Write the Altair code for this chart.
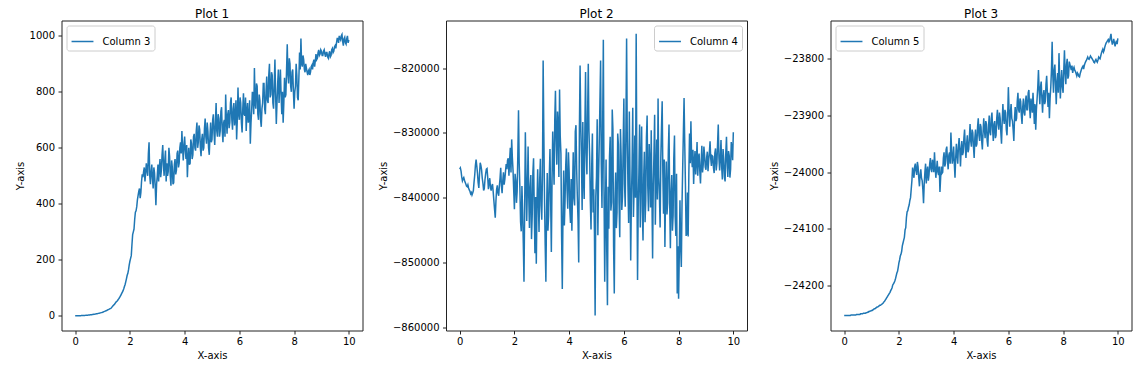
import altair as alt
import pandas as pd

# ---- data (x runs evenly from 0 to 10) ----
col3 = [0, 0, 0, 0.1, 0.3, 0.4, 0.5, 0.6, 0.8, 0.9,
        1, 1.1, 1.3, 1.5, 1.7, 1.8, 2, 2.2, 2.5, 2.7,
        3, 3.3, 3.6, 3.9, 4.2, 4.6, 5, 5.4, 5.8, 6.2,
        6.7, 7.2, 7.7, 8.2, 8.8, 9.4, 10, 10.7, 11.5, 12.2,
        13, 14, 15, 16, 17, 18, 19, 20.5, 22, 23,
        24, 25.5, 27, 29, 32, 35, 38, 40, 43, 47,
        50, 52, 55, 59, 62, 66, 70, 75, 80, 85,
        90, 97, 105, 112, 122, 133, 145, 152, 165, 182,
        195, 205, 215, 255, 290, 300, 310, 345, 370, 375,
        390, 415, 430, 445, 455, 420, 440, 480, 505, 495,
        515, 530, 480, 510, 545, 520, 500, 580, 620, 500,
        470, 515, 540, 490, 455, 530, 510, 460, 395, 470,
        500, 540, 480, 530, 560, 495, 520, 575, 610, 540,
        500, 555, 590, 480, 545, 500, 515, 600, 570, 500,
        465, 555, 530, 470, 475, 540, 560, 505, 520, 580,
        590, 530, 545, 600, 620, 580, 660, 600, 555, 610,
        640, 590, 560, 610, 495, 560, 600, 540, 545, 630,
        615, 560, 575, 640, 650, 600, 590, 660, 690, 600,
        620, 680, 665, 600, 570, 630, 650, 590, 600, 670,
        705, 640, 615, 690, 660, 600, 575, 640, 690, 620,
        630, 700, 720, 650, 610, 690, 760, 660, 640, 720,
        705, 640, 660, 730, 745, 660, 620, 690, 700, 640,
        790, 700, 650, 720, 735, 670, 690, 760, 780, 700,
        665, 740, 760, 680, 705, 770, 630, 700, 815, 720,
        700, 780, 760, 690, 655, 740, 795, 720, 715, 780,
        660, 730, 760, 690, 700, 770, 615, 690, 735, 800,
        790, 720, 885, 760, 740, 830, 820, 720, 700, 790,
        770, 700, 675, 740, 760, 830, 830, 740, 720, 800,
        855, 770, 760, 860, 900, 780, 790, 870, 860, 760,
        740, 830, 915, 790, 685, 760, 830, 880, 760, 820,
        880, 790, 720, 800, 690, 760, 850, 780, 790, 880,
        970, 860, 830, 920, 900, 820, 800, 870, 880, 800,
        740, 800, 820, 900, 860, 780, 770, 850, 940, 880,
        990, 900, 890, 930, 915, 880, 870, 900, 885, 870,
        860, 875, 880, 860, 870, 890, 895, 880, 905, 915,
        890, 910, 935, 915, 920, 940, 950, 930, 935, 950,
        945, 930, 930, 945, 950, 935, 925, 940, 940, 925,
        920, 935, 945, 925, 930, 950, 955, 940, 945, 960,
        965, 955, 975, 990, 990, 975, 1000, 990, 985, 1000,
        1005, 980, 965, 990, 995, 975, 970, 990, 1000, 975,
        985]

col4 = [-835600, -835400, -835900, -836800, -837400, -837100, -836900, -837300, -837600, -837900,
        -838200, -838300, -838000, -838500, -838800, -839000, -839400, -839200, -839600, -839300,
        -838900, -837600, -836500, -835000, -834100, -835100, -836200, -837700, -838500, -836400,
        -834600, -835000, -835700, -837000, -837800, -838900, -838600, -837200, -836300, -835600,
        -835500, -836900, -838700, -837600, -837000, -838400, -838900, -838200, -837900, -839100,
        -840500, -841800, -843100, -840500, -838700, -838100, -839300, -839700, -838200, -837000,
        -835400, -838200, -839300, -837400, -836100, -838000, -837200, -835900, -834800, -835600,
        -834200, -833900, -836600, -834200, -832300, -836100, -831000, -833800, -835800, -838900,
        -841800, -836300, -837400, -840800, -839000, -833400, -826500, -834700, -838500, -843700,
        -845200, -838200, -841900, -847000, -853000, -841500, -829900, -836800, -843600, -838400,
        -832100, -840000, -844700, -838300, -836500, -846400, -842900, -836100, -833900, -841700,
        -848600, -839900, -850200, -841200, -835600, -840700, -845300, -837100, -834000, -841300,
        -843400, -836700, -818800, -829900, -840100, -847300, -853000, -842400, -836200, -845100,
        -842800, -836700, -832500, -840600, -848400, -837400, -829800, -834300, -838000, -827900,
        -823500, -831200, -834900, -826700, -828600, -836800, -823300, -830500, -833200, -846000,
        -854100, -842600, -835800, -844300, -840600, -835100, -832400, -838900, -841700, -833000,
        -836000, -841800, -843900, -837100, -845100, -838600, -833000, -840100, -841200, -829800,
        -828800, -835600, -839900, -843400, -850000, -829400, -819600, -828800, -833700, -841900,
        -828300, -837000, -840200, -829500, -820600, -833100, -836400, -827100, -819300, -829800,
        -833600, -840500, -844900, -835200, -830100, -842300, -838700, -845400, -858200, -839800,
        -836800, -827900, -845800, -837200, -831500, -825300, -818800, -834900, -841600, -829100,
        -815600, -838900, -853000, -842200, -834100, -848100, -856600, -838300, -844800, -833700,
        -830600, -842000, -840700, -826400, -829400, -847600, -854800, -840300, -836100, -844700,
        -842300, -830100, -831800, -840900, -846100, -829400, -833500, -841900, -839800, -831600,
        -824700, -838000, -841400, -829300, -815400, -830900, -838200, -843900, -826700, -837300,
        -849700, -840200, -835200, -826100, -843000, -838500, -830400, -840000, -814700, -835500,
        -852700, -841300, -836000, -828700, -844600, -834800, -829000, -842100, -846600, -836900,
        -832900, -843800, -840400, -830700, -827300, -838400, -842100, -831700, -834800, -841500,
        -829600, -839400, -849400, -838100, -833300, -827200, -844200, -836600, -831000, -840300,
        -824700, -836900, -839600, -844600, -833900, -829300, -825100, -836200, -842500, -834100,
        -847600, -839100, -834400, -842600, -840900, -832800, -828700, -840800, -847800, -839200,
        -836500, -845100, -842700, -833900, -830400, -842900, -845900, -836300, -854800, -847500,
        -855600, -848900, -840400, -847400, -850700, -841100, -835400, -829900, -824600, -831700,
        -837900, -845900, -845600, -839200, -846000, -836200, -830100, -834700, -828200, -833600,
        -835300, -832600, -837900, -834500, -832800, -836400, -834300, -831400, -836600, -833800,
        -833200, -835900, -837800, -834600, -832000, -836100, -834900, -832100, -833400, -835300,
        -835700, -833800, -832900, -835900, -834200, -833000, -831300, -834000, -835100, -833500,
        -833600, -835400, -836200, -833100, -832400, -835800, -834700, -831600, -828700, -833900,
        -835800, -833700, -831100, -835300, -837200, -832500, -834000, -836800, -837500, -833100,
        -830600, -834600, -836800, -832800, -833500, -836900, -835600, -831400, -832400, -834200,
        -829900]

col5 = [-24253, -24253, -24253, -24253, -24253, -24253, -24253, -24253, -24253, -24253,
        -24252, -24252, -24252, -24252, -24252, -24252, -24252, -24252, -24251, -24251,
        -24251, -24251, -24251, -24251, -24250, -24250, -24250, -24250, -24249, -24249,
        -24249, -24249, -24248, -24248, -24247, -24247, -24246, -24246, -24245, -24245,
        -24244, -24244, -24243, -24242, -24241, -24241, -24240, -24239, -24238, -24238,
        -24237, -24236, -24235, -24235, -24234, -24233, -24232, -24231, -24229, -24228,
        -24226, -24224, -24222, -24220, -24218, -24216, -24214, -24212, -24209, -24207,
        -24204, -24199, -24197, -24195, -24192, -24188, -24183, -24178, -24175, -24168,
        -24160, -24155, -24148, -24145, -24140, -24130, -24125, -24120, -24115, -24102,
        -24098, -24080, -24070, -24068, -24062, -24058, -24050, -24045, -24030, -24015,
        -23992, -24000, -24010, -23990, -23985, -23998, -24005, -23982, -23990, -24010,
        -24025, -24005, -23995, -24010, -24015, -24030, -24055, -24020, -24000, -23985,
        -24020, -24000, -23990, -24015, -24005, -23985, -23975, -23995, -24000, -23978,
        -23985, -24000, -23965, -23990, -24010, -23995, -23980, -24000, -24005, -23990,
        -24035, -24010, -23990, -24002, -24000, -23975, -23965, -23990, -23985, -23960,
        -23955, -23980, -23995, -23970, -23965, -23985, -23930, -23960, -23985, -23975,
        -23955, -23985, -24010, -23975, -23950, -23970, -23985, -23955, -23940, -23960,
        -23990, -23960, -23945, -23970, -23965, -23940, -23925, -23955, -23975, -23950,
        -23935, -23965, -23960, -23940, -23915, -23945, -23955, -23925, -23930, -23955,
        -23975, -23940, -23925, -23955, -23950, -23920, -23905, -23935, -23945, -23915,
        -23920, -23945, -23960, -23930, -23905, -23925, -23940, -23910, -23915, -23945,
        -23955, -23920, -23900, -23930, -23935, -23905, -23895, -23925, -23945, -23915,
        -23910, -23940, -23935, -23905, -23890, -23915, -23925, -23895, -23905, -23930,
        -23950, -23910, -23880, -23905, -23915, -23890, -23895, -23925, -23935, -23900,
        -23850, -23890, -23920, -23895, -23880, -23905, -23910, -23925, -23945, -23905,
        -23885, -23910, -23905, -23875, -23860, -23890, -23895, -23870, -23875, -23900,
        -23915, -23885, -23870, -23895, -23900, -23875, -23865, -23890, -23890, -23860,
        -23855, -23885, -23905, -23870, -23880, -23895, -23860, -23885, -23915, -23880,
        -23925, -23890, -23870, -23850, -23820, -23855, -23880, -23850, -23840, -23870,
        -23895, -23865, -23855, -23880, -23875, -23845, -23830, -23860, -23885, -23860,
        -23905, -23870, -23850, -23820, -23770, -23830, -23860, -23820, -23810, -23845,
        -23880, -23840, -23825, -23860, -23790, -23835, -23870, -23840, -23820, -23850,
        -23860, -23820, -23785, -23825, -23845, -23810, -23800, -23835, -23830, -23805,
        -23810, -23815, -23820, -23812, -23825, -23818, -23815, -23820, -23822, -23826,
        -23830, -23825, -23827, -23831, -23832, -23826, -23822, -23818, -23815, -23813,
        -23818, -23812, -23808, -23805, -23803, -23800, -23797, -23800, -23801, -23798,
        -23795, -23797, -23799, -23801, -23803, -23806, -23807, -23803, -23801, -23804,
        -23806, -23802, -23797, -23799, -23800, -23795, -23790, -23786, -23783, -23788,
        -23785, -23779, -23775, -23772, -23770, -23768, -23766, -23770, -23768, -23762,
        -23756, -23768, -23775, -23770, -23765, -23772, -23778, -23772, -23768, -23774,
        -23764]

x_ticks = [0, 2, 4, 6, 8, 10]
y_ticks_1 = [0, 200, 400, 600, 800, 1000]
y_ticks_2 = [-860000, -850000, -840000, -830000, -820000]
y_ticks_3 = [-24200, -24100, -24000, -23900, -23800]

titles = ["Plot 1", "Plot 2", "Plot 3"]
names = ["Column 3", "Column 4", "Column 5"]

LINE = "#1f77b4"
FONT = "DejaVu Sans"


def panel(values, name, title, y_domain, y_ticks, orient):
    n = len(values)
    xs = [10.0 * i / (n - 1) for i in range(n)]
    df = pd.DataFrame({"x": xs, "y": values, "series": [name] * n})
    return (
        alt.Chart(df, title=alt.Title(title, fontSize=12, fontWeight="normal",
                                      anchor="middle", offset=0, color="black", font=FONT))
        .mark_line(strokeWidth=1.5, clip=True)
        .encode(
            x=alt.X("x:Q", scale=alt.Scale(domain=[-0.5, 10.5], nice=False, zero=False),
                    axis=alt.Axis(values=x_ticks, title="X-axis", format="d", labelPadding=2)),
            y=alt.Y("y:Q", scale=alt.Scale(domain=y_domain, nice=False, zero=False),
                    axis=alt.Axis(values=y_ticks, title="Y-axis", format="d")),
            color=alt.Color("series:N", scale=alt.Scale(domain=[name], range=[LINE]),
                            legend=alt.Legend(orient=orient, title=None)),
        )
        .properties(width=301, height=310)
    )


p1 = panel(col3, names[0], titles[0], [-52.3, 1054.7], y_ticks_1, "top-left")
p2 = panel(col4, names[1], titles[1], [-860515, -812638], y_ticks_2, "top-right")
p3 = panel(col5, names[2], titles[2], [-24279.4, -23732.4], y_ticks_3, "top-left")

chart = (
    alt.hconcat(p1, p2, p3, spacing=83.5, bounds="flush")
    .resolve_scale(color="independent")
    .resolve_legend(color="independent")
    .properties(padding={"left": 6.5, "top": -1.5, "right": 0, "bottom": 0}, background="white")
    .configure(font=FONT)
    .configure_view(stroke="#222222", strokeWidth=1)
    .configure_axis(
        grid=False, domain=False, ticks=True, tickSize=3.5, tickColor="#222222",
        tickWidth=1, labelFontSize=10, labelColor="black", labelPadding=3.5,
        titleFontSize=10, titleFontWeight="normal", titleColor="black",
        titlePadding=4, labelFont=FONT, titleFont=FONT,
    )
    .configure_legend(
        strokeColor="#cccccc", fillColor="rgba(255,255,255,0.8)", cornerRadius=2.5,
        padding=4, offset=5, labelFontSize=10, labelColor="black", labelFont=FONT,
        symbolType="stroke", symbolSize=480, symbolStrokeWidth=1.5, labelOffset=8,
        symbolStrokeColor=LINE,
    )
)

chart.save("out.html", embed_options={"renderer": "svg", "actions": False})
